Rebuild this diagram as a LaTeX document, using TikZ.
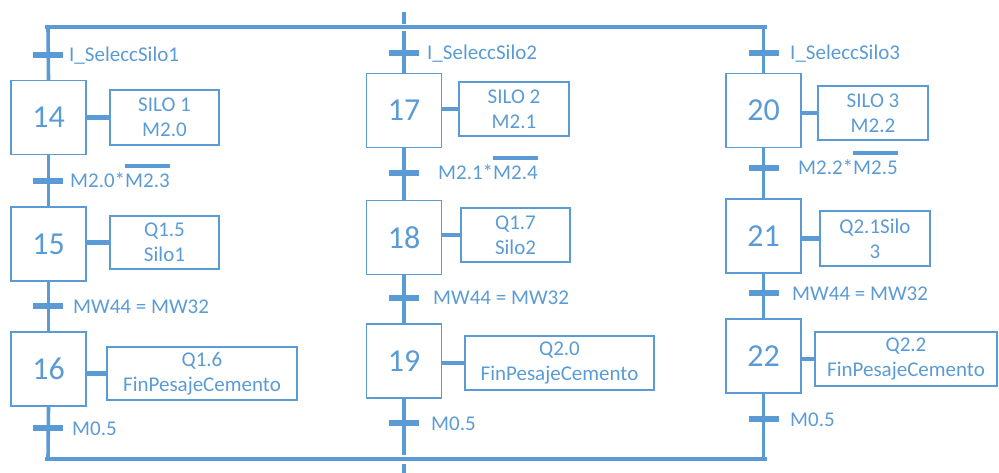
\documentclass[tikz,border=0pt]{standalone}
\usepackage{fontspec}
\setmainfont{Carlito}
\definecolor{azul}{RGB}{91,155,213}
% variable negada: raya encima del texto
\newcommand{\negada}[1]{\setbox0\hbox{#1}\rlap{\raisebox{20pt}{\rule{\wd0}{3.6pt}}}\box0}
\begin{document}
\begin{tikzpicture}[x=1pt, y=-1pt,
			etapa/.style={draw=azul, line width=1.3pt, minimum width=75pt, minimum height=74pt, inner sep=0pt, text=azul, font=\fontsize{32}{32}\selectfont},
			accion/.style={draw=azul, line width=1.3pt, minimum height=54pt, inner sep=0pt, align=center, text=azul, font=\fontsize{21}{25}\selectfont},
			recep/.style={anchor=base west, inner sep=0pt, text=azul, font=\fontsize{21}{25}\selectfont},
			linea/.style={line width=3.6pt, azul},
			barra/.style={line width=6pt, azul},
			enlace/.style={line width=4.6pt, azul},
			sincro/.style={line width=4.6pt, azul},
			]
			
			\useasboundingbox (0,0) rectangle (999,473);
			
			\def\ca{48}      % columna silo 1
			\def\cb{404}     % columna silo 2
			\def\cc{763.5}   % columna silo 3
			
			%%=== lineas de sincronismo ==========================
			\coordinate (sup) at (45,27);
			\coordinate (inf) at (45,459);
			\draw[sincro] (sup) -- (767,27);
			\draw[sincro] (inf) -- (767,459);
			% retorno (linea central cortada)
			\coordinate (ret1) at (\cb,12);
			\coordinate (ret2) at (\cb,464);
			\draw[linea] (ret1) -- (\cb,24);
			\draw[linea] (ret2) -- (\cb,473);
			
			%%=== COLUMNA 1 =======================================
			\node[etapa] (e14) at (48.5,117.5) {14};
			\node[etapa] (e15) at (48.5,244) {15};
			\node[etapa] (e16) at (48.5,369) {16};
			\node[accion, minimum width=109pt, minimum height=55pt] (a14) at (164.5,117.5) {SILO 1\\M2.0};
			\node[accion, minimum width=109pt, minimum height=53pt] (a15) at (164.5,242.5) {Q1.5\\Silo1};
			\node[accion, minimum width=190pt, minimum height=53pt] (a16) at (202,373.5) {Q1.6\\FinPesajeCemento};
			\coordinate (t13) at (\ca,55);
			\coordinate (t14) at (\ca,181);
			\coordinate (t15) at (\ca,306);
			\coordinate (t16) at (\ca,428);
			\draw[linea] (\ca,27) -- (e14.north);
			\draw[linea] (e14.south) -- (e15.north);
			\draw[linea] (e15.south) -- (e16.north);
			\draw[linea] (e16.south) -- (\ca,459);
			\draw[enlace] (e14.east |- a14.west) -- (a14.west);
			\draw[enlace] (e15.east |- a15.west) -- (a15.west);
			\draw[enlace] (e16.east |- a16.west) -- (a16.west);
			\node[recep] (r13) at (69,62) {I\_SeleccSilo1};
			\node[recep] (r14) at (70,188) {M2.0*\negada{M2.3}};
			\node[recep] (r15) at (73,313) {MW44 = MW32};
			\node[recep] (r16) at (72,435) {M0.5};
			
			%%=== COLUMNA 2 =======================================
			\node[etapa] (e17) at (404,110.5) {17};
			\node[etapa] (e18) at (404,237.5) {18};
			\node[etapa] (e19) at (404,361) {19};
			\node[accion, minimum width=110pt] (a17) at (514,109) {SILO 2\\M2.1};
			\node[accion, minimum width=109pt] (a18) at (515.5,235) {Q1.7\\Silo2};
			\node[accion, minimum width=189pt] (a19) at (559.5,363) {Q2.0\\FinPesajeCemento};
			\coordinate (t17) at (\cb,53);
			\coordinate (t18) at (\cb,173);
			\coordinate (t19) at (\cb,298);
			\coordinate (t20) at (\cb,423);
			\draw[linea] (\cb,31) -- (e17.north);
			\draw[linea] (e17.south) -- (e18.north);
			\draw[linea] (e18.south) -- (e19.north);
			\draw[linea] (e19.south) -- (\cb,455);
			\draw[enlace] (e17.east |- a17.west) -- (a17.west);
			\draw[enlace] (e18.east |- a18.west) -- (a18.west);
			\draw[enlace] (e19.east |- a19.west) -- (a19.west);
			\node[recep] (r17) at (427,60) {I\_SeleccSilo2};
			\node[recep] (r18) at (438,180) {M2.1*\negada{M2.4}};
			\node[recep] (r19) at (433,305) {MW44 = MW32};
			\node[recep] (r20) at (431,430) {M0.5};
			
			%%=== COLUMNA 3 =======================================
			\node[etapa] (e20) at (763.5,110.5) {20};
			\node[etapa] (e21) at (763.5,236) {21};
			\node[etapa] (e22) at (763.5,356) {22};
			\node[accion, minimum width=110pt] (a20) at (873,113) {SILO 3\\M2.2};
			\node[accion, minimum width=110pt, minimum height=55pt] (a21) at (875,238.5) {Q2.1Silo\\3};
			\node[accion, minimum width=182pt] (a22) at (906,359) {Q2.2\\FinPesajeCemento};
			\coordinate (t21) at (\cc,53);
			\coordinate (t22) at (\cc,168);
			\coordinate (t23) at (\cc,293);
			\coordinate (t24) at (\cc,419);
			\draw[linea] (\cc,27) -- (e20.north);
			\draw[linea] (e20.south) -- (e21.north);
			\draw[linea] (e21.south) -- (e22.north);
			\draw[linea] (e22.south) -- (\cc,459);
			\draw[enlace] (e20.east |- a20.west) -- (a20.west);
			\draw[enlace] (e21.east |- a21.west) -- (a21.west);
			\draw[enlace] (e22.east |- a22.west) -- (a22.west);
			\node[recep] (r21) at (790,60) {I\_SeleccSilo3};
			\node[recep] (r22) at (798,175) {M2.2*\negada{M2.5}};
			\node[recep] (r23) at (792,300) {MW44 = MW32};
			\node[recep] (r24) at (790,426) {M0.5};
			
			% barras de transicion
			\foreach \t in {t13,t14,t15,t16,t17,t18,t19,t20,t21,t22,t23,t24}
				\draw[barra] ([xshift=-15pt]\t) -- ([xshift=15pt]\t);
			
		\end{tikzpicture}
\end{document}
